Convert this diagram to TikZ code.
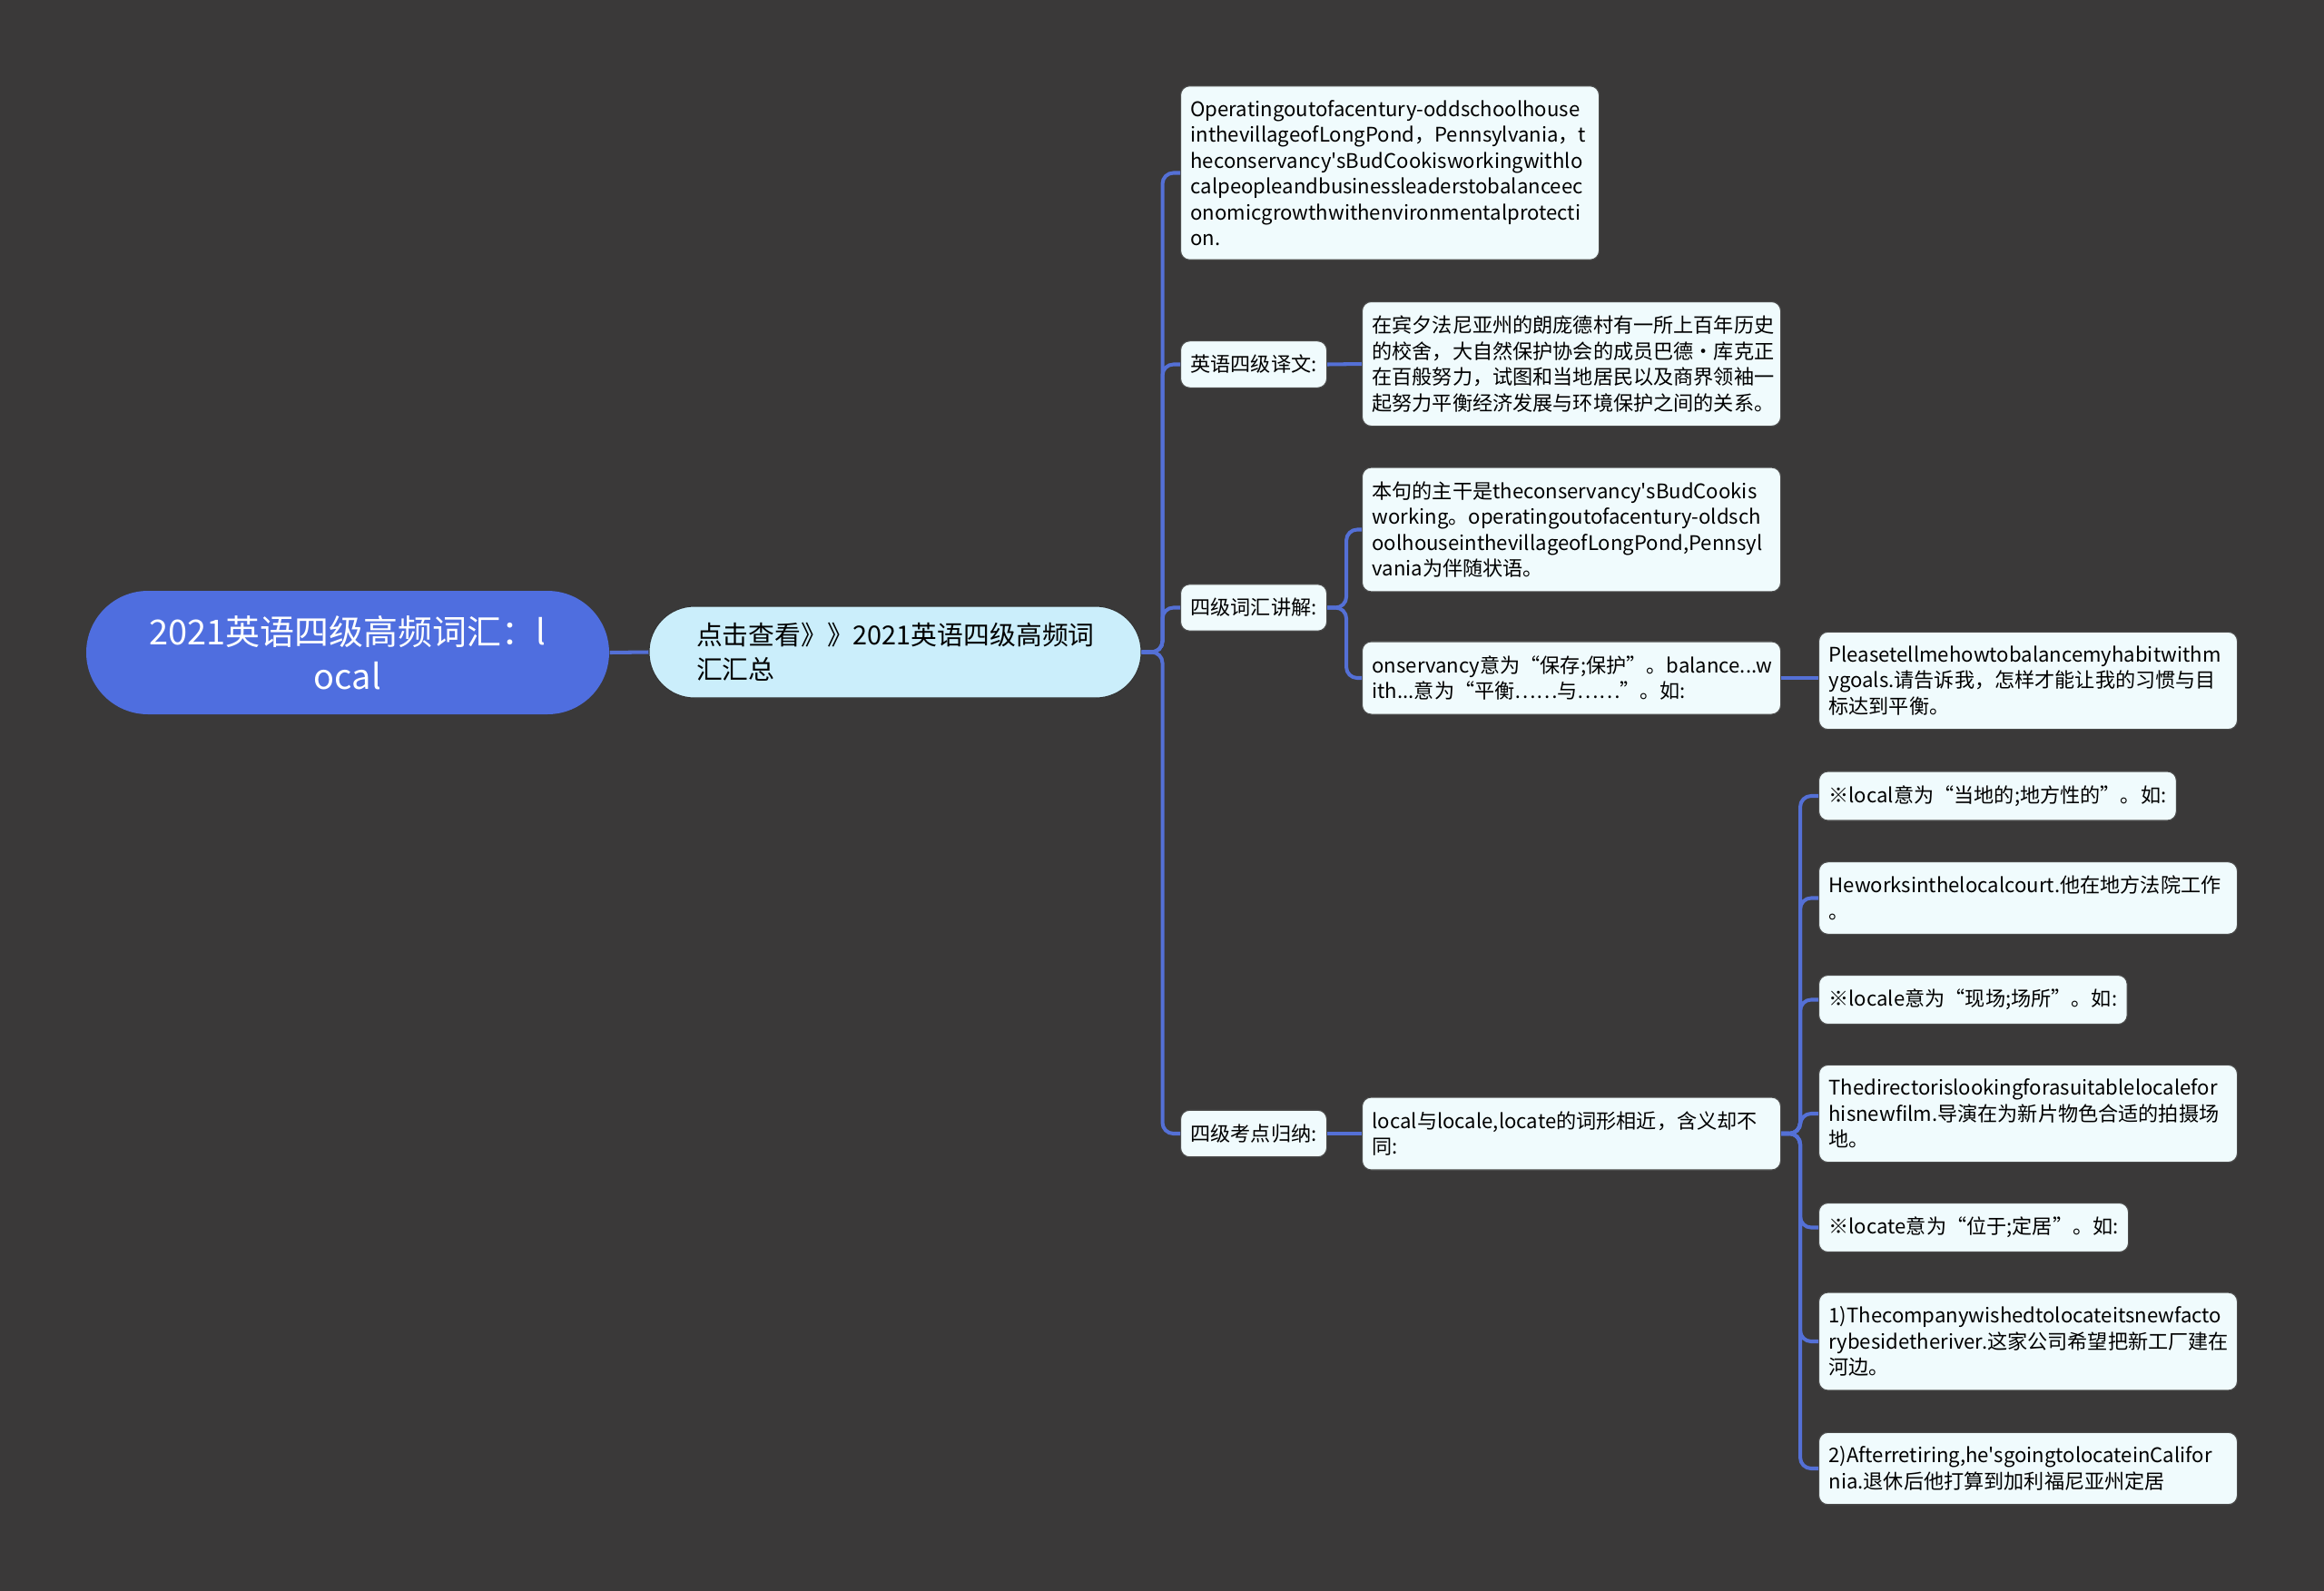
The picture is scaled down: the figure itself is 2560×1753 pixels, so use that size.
\documentclass[tikz,border=0pt]{standalone}
\usepackage{fontspec}
\newfontfamily\cjkfont{Noto Sans CJK SC}
\hyphenpenalty=10000
\exhyphenpenalty=10000
\definecolor{bgdark}{HTML}{3A3939}
\definecolor{rootblue}{HTML}{4F6EDF}
\definecolor{subcyan}{HTML}{CBEEFB}
\definecolor{leaffill}{HTML}{F0FBFD}
\definecolor{linkblue}{HTML}{5470D6}

\begin{document}
\begin{tikzpicture}[x=0.1mm, y=-0.1mm,
  link/.style={draw=linkblue, line width=1.15pt, rounded corners=1.2mm},
  rootnode/.style={fill=rootblue, text=white, rounded corners=6.8mm,
    minimum width=57.6mm, minimum height=13.6mm, align=center,
    font=\cjkfont\fontsize{10.8}{14}\selectfont},
  subnode/.style={fill=subcyan, draw=black!80, line width=0.3pt, rounded corners=5mm,
    minimum height=10.1mm, inner xsep=5.2mm, text width=43.8mm, align=left,
    font=\cjkfont\fontsize{8.2}{10.7}\selectfont},
  leaf/.style={fill=leaffill, draw=black!70, line width=0.3pt, rounded corners=1mm,
    anchor=west, inner xsep=1.1mm, inner ysep=1.55mm, align=left,
    font=\cjkfont\fontsize{6.3}{8.1}\selectfont},
  wide/.style={leaf, text width=43.9mm}]
  \fill[bgdark] (0,0) rectangle (2560,1753);
  \useasboundingbox (0,0) rectangle (2560,1753);

  % 中心与第一层
  \node[rootnode] (root) at (383,719) {2021英语四级高频词汇：l\\ocal};
  \node[subnode] (sub) at (986,718.5) {点击查看》》2021英语四级高频词\\汇汇总};

  % 第二层
  \node[wide] (t0) at (1300,190.5) {Operatingoutofacentury-oddschoolhouse\\inthevillageofLongPond，Pennsylvania，t\\heconservancy'sBudCookisworkingwithlo\\calpeopleandbusinessleaderstobalanceec\\onomicgrowthwithenvironmentalprotecti\\on.};
  \node[leaf] (yw) at (1300,401.5) {英语四级译文:};
  \node[leaf] (ch) at (1300,669.5) {四级词汇讲解:};
  \node[leaf] (kd) at (1300,1249) {四级考点归纳:};

  % 第三层
  \node[wide] (ywt) at (1500,401) {在宾夕法尼亚州的朗庞德村有一所上百年历史\\的校舍，大自然保护协会的成员巴德·库克正\\在百般努力，试图和当地居民以及商界领袖一\\起努力平衡经济发展与环境保护之间的关系。};
  \node[wide] (bj) at (1500,583.5) {本句的主干是theconservancy'sBudCookis\\working。operatingoutofacentury-oldsch\\oolhouseinthevillageofLongPond,Pennsyl\\vania为伴随状语。};
  \node[wide] (os) at (1500,747) {onservancy意为“保存;保护”。balance...w\\ith...意为“平衡……与……”。如:};
  \node[wide] (kdt) at (1500,1249) {local与locale,locate的词形相近，含义却不\\同:};

  % 第四层
  \node[wide] (pl) at (2003,750) {Pleasetellmehowtobalancemyhabitwithm\\ygoals.请告诉我，怎样才能让我的习惯与目\\标达到平衡。};
  \node[leaf] (l1) at (2003,877) {※local意为“当地的;地方性的”。如:};
  \node[wide] (l2) at (2003,989.5) {Heworksinthelocalcourt.他在地方法院工作\\。};
  \node[leaf] (l3) at (2003,1101.5) {※locale意为“现场;场所”。如:};
  \node[wide] (l4) at (2003,1227) {Thedirectorislookingforasuitablelocalefor\\hisnewfilm.导演在为新片物色合适的拍摄场\\地。};
  \node[leaf] (l5) at (2003,1352.5) {※locate意为“位于;定居”。如:};
  \node[wide] (l6) at (2003,1478) {1)Thecompanywishedtolocateitsnewfacto\\rybesidetheriver.这家公司希望把新工厂建在\\河边。};
  \node[wide] (l7) at (2003,1618) {2)Afterretiring,he'sgoingtolocateinCalifor\\nia.退休后他打算到加利福尼亚州定居};

  % 连线
  \draw[link] (root.east) -- (sub.west);
  \foreach \c in {t0,yw,ch,kd}
    \draw[link] (sub.east) -- ++(23,0) |- (\c.west);
  \draw[link] (yw.east) -- (ywt.west);
  \foreach \c in {bj,os}
    \draw[link] (ch.east) -- ++(21,0) |- (\c.west);
  \draw[link] (os.east) -- (os.east -| pl.west);
  \draw[link] (kd.east) -- (kdt.west);
  \foreach \c in {l1,l2,l3,l4,l5,l6,l7}
    \draw[link] (kdt.east) -- ++(21,0) |- (\c.west);
\end{tikzpicture}
\end{document}
